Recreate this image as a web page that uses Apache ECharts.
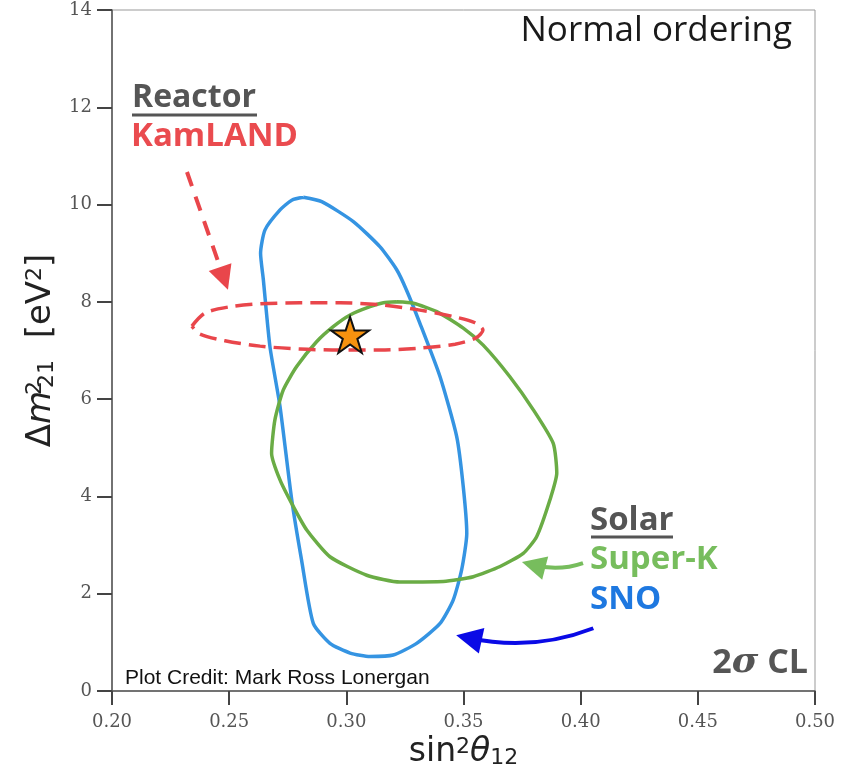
<!DOCTYPE html>
<html>
<head>
<meta charset="utf-8">
<script src="https://cdn.jsdelivr.net/npm/echarts@6/dist/echarts.min.js"></script>
<style>
	html,body{margin:0;padding:0;background:#fff;}
	#chart{width:842px;height:775px;}
</style>
</head>
<body>
<div id="chart"></div>
<script>
//SNO 2sigma 轮廓 [sin2theta12, dm21]
var snoContour = [
	[0.2816,10.15],[0.2895,10.06],[0.3030,9.65],[0.3144,9.13],[0.3215,8.66],[0.3257,8.24],
	[0.3314,7.56],[0.3400,6.46],[0.3471,5.23],[0.3499,4.20],[0.3514,3.24],[0.3492,2.49],
	[0.3456,1.87],[0.3400,1.39],[0.3300,0.98],[0.3200,0.74],[0.3101,0.71],[0.3016,0.78],
	[0.2930,0.98],[0.2859,1.39],[0.2809,2.69],[0.2767,3.93],[0.2717,5.85],[0.2674,7.08],
	[0.2646,8.45],[0.2634,9.00],[0.2653,9.48],[0.2717,9.89],[0.2767,10.09],[0.2816,10.15]
];
//Super-K 轮廓
var superKContour = [
	[0.3215,8.00],[0.3286,7.97],[0.3386,7.80],[0.3499,7.46],[0.3584,7.11],[0.3698,6.46],
	[0.3798,5.78],[0.3883,5.09],[0.3898,4.48],[0.3869,3.93],[0.3812,3.17],[0.3755,2.83],
	[0.3656,2.56],[0.3542,2.35],[0.3414,2.25],[0.3229,2.24],[0.3087,2.38],[0.2930,2.76],
	[0.2831,3.31],[0.2774,3.79],[0.2717,4.34],[0.2681,4.89],[0.2695,5.57],[0.2731,6.19],
	[0.2788,6.67],[0.2873,7.18],[0.2944,7.49],[0.3016,7.73],[0.3101,7.90],[0.3158,7.98],
	[0.3215,8.00]
];
//KamLAND 轮廓
var kamlandContour = [
	[0.2341,7.50],[0.2397,7.77],[0.2504,7.90],[0.2632,7.96],[0.2802,7.98],[0.2973,7.98],
	[0.3144,7.94],[0.3314,7.83],[0.3464,7.69],[0.3549,7.57],[0.3583,7.42],[0.3553,7.26],
	[0.3464,7.13],[0.3314,7.05],[0.3144,7.01],[0.2973,7.01],[0.2802,7.03],[0.2632,7.09],
	[0.2482,7.20],[0.2375,7.34],[0.2341,7.50]
];
//最佳拟合点
var bestFit = [[0.3016,7.32]];
//箭头 起点-箭头中心
var reactorArrow = [[0.2320,10.67],[0.2478,8.48]];
var superKArrow = [[0.4010,2.63],[0.3799,2.59]];
var snoArrow = [[0.4054,1.29],[0.3523,1.09]];

var xTicks = [0.20,0.25,0.30,0.35,0.40,0.45,0.50];
var yTicks = [0,2,4,6,8,10,12,14];

var starPath = 'path://M50,2 L61,36 L97,36 L68,57 L79,92 L50,71 L21,92 L32,57 L3,36 L39,36 Z';

var myChart = echarts.init(document.getElementById('chart'), null, {renderer:'canvas'});

var sansBold = '"Open Sans", "DejaVu Sans", sans-serif';
var grey = '#555555';

var options = {
	backgroundColor:'#ffffff',
	animation:false,
	grid:{
		left:112,
		right:27,
		top:10,
		bottom:84,
		show:true,
		borderColor:'#999',
		borderWidth:1
	},
	xAxis:{
		type:'value',
		min:xTicks[0],
		max:xTicks[xTicks.length-1],
		interval:0.05,
		name:'{n|sin}{sup|2}{it|θ}{sub|12}',
		nameLocation:'middle',
		nameGap:40,
		nameTextStyle:{
			rich:{
				n:{fontSize:33,fontFamily:'DejaVu Sans',color:'#222'},
				it:{fontSize:33,fontFamily:'DejaVu Sans',fontStyle:'italic',color:'#222'},
				sup:{fontSize:22,fontFamily:'DejaVu Sans',color:'#222',verticalAlign:'top'},
				sub:{fontSize:22,fontFamily:'DejaVu Sans',color:'#222',verticalAlign:'bottom',padding:[10,0,0,0]}
			}
		},
		axisLine:{lineStyle:{color:'#555',width:1.5}},
		axisTick:{show:true,inside:false,length:14,lineStyle:{color:'#444',width:2}},
		axisLabel:{
			margin:22,
			fontFamily:'DejaVu Serif',
			fontSize:18,
			color:'#555',
			formatter:function(v){ return v.toFixed(2); }
		},
		splitLine:{show:false}
	},
	yAxis:{
		type:'value',
		min:yTicks[0],
		max:yTicks[yTicks.length-1],
		interval:2,
		name:'{d|Δ}{it|m}{sup|2}{sub|21}{n|  [eV}{sup2|2}{n|]}',
		nameLocation:'middle',
		nameGap:52,
		nameTextStyle:{
			rich:{
				d:{fontSize:34,fontFamily:'DejaVu Sans',color:'#222'},
				n:{fontSize:34,fontFamily:'DejaVu Sans',color:'#222'},
				it:{fontSize:34,fontFamily:'DejaVu Sans',fontStyle:'italic',color:'#222',padding:[0,3,0,0]},
				sup:{fontSize:22,fontFamily:'DejaVu Sans',color:'#222',verticalAlign:'top',width:0},
				sup2:{fontSize:22,fontFamily:'DejaVu Sans',color:'#222',verticalAlign:'top'},
				sub:{fontSize:22,fontFamily:'DejaVu Sans',color:'#222',verticalAlign:'bottom',padding:[10,0,0,0]}
			}
		},
		axisLine:{show:true,lineStyle:{color:'#555',width:1.5}},
		axisTick:{show:true,inside:false,length:15,lineStyle:{color:'#444',width:2}},
		axisLabel:{
			margin:20,
			fontFamily:'DejaVu Serif',
			fontSize:18,
			color:'#555'
		},
		splitLine:{show:false}
	},
	series:[
		{
			name:'SNO',
			type:'line',
			data:snoContour,
			showSymbol:false,
			smooth:0.2,
			lineStyle:{color:'#3594e2',width:3.5},
			z:3
		},
		{
			name:'Super-K',
			type:'line',
			data:superKContour,
			showSymbol:false,
			smooth:0.2,
			lineStyle:{color:'#6aac45',width:3.5},
			z:4
		},
		{
			name:'KamLAND',
			type:'line',
			data:kamlandContour,
			showSymbol:false,
			smooth:0.3,
			lineStyle:{color:'#e9464b',width:3.5,type:[17,8]},
			z:5
		},
		{
			name:'best fit',
			type:'scatter',
			data:bestFit,
			symbol:starPath,
			symbolSize:[38,36],
			itemStyle:{color:'#f7920f',borderColor:'#111',borderWidth:2,opacity:1},
			z:10
		},
		{
			type:'lines',
			coordinateSystem:'cartesian2d',
			symbol:['none','triangle'],
			symbolSize:[20,24],
			lineStyle:{color:'#e9464b',width:4,type:[15,11],opacity:1},
			data:[{coords:reactorArrow}],
			z:6
		},
		{
			type:'lines',
			coordinateSystem:'cartesian2d',
			symbol:['none','triangle'],
			symbolSize:[20,24],
			lineStyle:{color:'#77bd5d',width:4,opacity:1,curveness:0.15},
			data:[{coords:superKArrow}],
			z:6
		},
		{
			type:'lines',
			coordinateSystem:'cartesian2d',
			symbol:['none','triangle'],
			symbolSize:[22,26],
			lineStyle:{color:'#0a0ae6',width:4,opacity:1,curveness:0.15},
			data:[{coords:snoArrow}],
			z:6
		}
	],
	graphic:[
		{type:'text',z:20,style:{text:'Normal ordering',x:792,y:31,textAlign:'right',textVerticalAlign:'middle',font:'35px "Open Sans", sans-serif',fill:'#1a1a1a'}},
		{type:'text',z:20,style:{text:'Reactor',x:132,y:98,textVerticalAlign:'middle',font:'bold 32px '+sansBold,fill:grey}},
		{type:'line',z:20,shape:{x1:132,y1:115,x2:257,y2:115},style:{stroke:grey,lineWidth:3}},
		{type:'text',z:20,style:{text:'KamLAND',x:131,y:137,textVerticalAlign:'middle',font:'bold 33px '+sansBold,fill:'#ea4b4f'}},
		{type:'text',z:20,style:{text:'Solar',x:590,y:521,textVerticalAlign:'middle',font:'bold 33px '+sansBold,fill:grey}},
		{type:'line',z:20,shape:{x1:591,y1:537,x2:673,y2:537},style:{stroke:grey,lineWidth:3}},
		{type:'text',z:20,style:{text:'Super-K',x:590,y:560,textVerticalAlign:'middle',font:'bold 33px '+sansBold,fill:'#77bd5d'}},
		{type:'text',z:20,style:{text:'SNO',x:590,y:600,textVerticalAlign:'middle',font:'bold 33px '+sansBold,fill:'#1e78e0'}},
		{type:'text',z:20,style:{
			text:'{a|2}{s|σ}{a| CL}',x:808,y:663,textAlign:'right',textVerticalAlign:'middle',
			rich:{
				a:{fontSize:34,fontWeight:'bold',fontFamily:sansBold,fill:grey},
				s:{fontSize:36,fontWeight:'bold',fontStyle:'italic',fontFamily:'DejaVu Serif',fill:grey}
			}
		}},
		{type:'text',z:20,style:{text:'Plot Credit: Mark Ross Lonergan',x:125,y:678,textVerticalAlign:'middle',font:'21px "Liberation Sans Narrow", "Liberation Sans", sans-serif',fill:'#111'}}
	]
};
myChart.setOption(options);
</script>
</body>
</html>
